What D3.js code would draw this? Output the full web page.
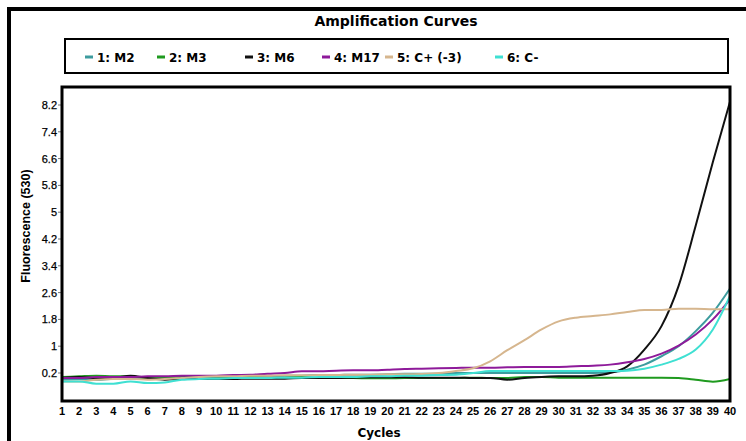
<!DOCTYPE html>
<html>
<head>
<meta charset="utf-8">
<script src="https://cdn.jsdelivr.net/npm/d3@7"></script>
<style>
  body { margin: 0; background: #fff; }
  svg { display: block; }
</style>
</head>
<body>
<script>
// --- data ---
const cycles = [1,2,3,4,5,6,7,8,9,10,11,12,13,14,15,16,17,18,19,20,
                21,22,23,24,25,26,27,28,29,30,31,32,33,34,35,36,37,38,39,40];
const yTicks = [0.2, 1, 1.8, 2.6, 3.4, 4.2, 5, 5.8, 6.6, 7.4, 8.2];

const seriesNames = ["1: M2", "2: M3", "3: M6", "4: M17", "5: C+ (-3)", "6: C-"];
const seriesColors = ["#3d9c9e", "#1f9a1f", "#111111", "#8e1a9a", "#d6b68e", "#3fe0d2"];

const m2 = [0.0,0.02,0.0,0.03,0.05,0.03,0.05,0.1,0.1,0.08,
            0.08,0.1,0.1,0.12,0.12,0.14,0.14,0.15,0.15,0.16,
            0.18,0.18,0.18,0.2,0.2,0.2,0.2,0.2,0.2,0.2,
            0.2,0.2,0.22,0.3,0.45,0.7,1.0,1.45,2.0,2.72];
const m3 = [0.08,0.1,0.12,0.1,0.1,0.05,0.05,0.08,0.1,0.1,
            0.08,0.08,0.06,0.06,0.08,0.05,0.05,0.05,0.04,0.04,
            0.05,0.05,0.05,0.05,0.06,0.05,0.05,0.08,0.08,0.06,
            0.06,0.06,0.06,0.06,0.06,0.06,0.05,0.0,-0.06,0.02];
const m6 = [0.05,0.08,0.05,0.05,0.12,0.05,0.0,0.02,0.02,0.02,
            0.02,0.03,0.03,0.03,0.05,0.05,0.05,0.06,0.07,0.07,
            0.07,0.06,0.06,0.06,0.05,0.05,0.0,0.05,0.08,0.1,
            0.1,0.12,0.2,0.4,0.9,1.6,2.8,4.6,6.5,8.3];
const m17 = [0.05,0.05,0.08,0.08,0.08,0.1,0.1,0.12,0.12,0.12,
             0.14,0.15,0.18,0.2,0.25,0.25,0.27,0.28,0.28,0.3,
             0.32,0.33,0.34,0.35,0.36,0.36,0.37,0.38,0.38,0.38,
             0.4,0.42,0.45,0.52,0.62,0.78,1.02,1.35,1.8,2.4];
const cPos = [-0.05,-0.05,0.0,0.02,0.02,0.0,0.02,0.05,0.08,0.1,
              0.1,0.12,0.12,0.13,0.13,0.14,0.14,0.15,0.15,0.16,
              0.16,0.17,0.2,0.26,0.34,0.55,0.88,1.18,1.5,1.74,
              1.85,1.9,1.95,2.02,2.08,2.08,2.12,2.12,2.1,2.1];
const cNeg = [-0.05,-0.05,-0.12,-0.12,-0.05,-0.1,-0.08,0.0,0.02,0.03,
              0.05,0.05,0.05,0.06,0.06,0.08,0.08,0.08,0.1,0.1,
              0.12,0.12,0.14,0.15,0.2,0.26,0.26,0.26,0.26,0.26,
              0.26,0.26,0.26,0.27,0.33,0.45,0.62,0.9,1.5,2.5];

const seriesValues = [m2, m3, m6, m17, cPos, cNeg];

// --- layout ---
const W = 746, H = 441;
const plot = {left: 62, right: 730, top: 87, bottom: 401};

const svg = d3.select("body").append("svg")
    .attr("width", W)
    .attr("height", H)
    .style("font-family", "'Liberation Sans', Arial, sans-serif");

// outer frame (runs off the right / bottom edge in the reference)
svg.append("rect")
    .attr("x", 9).attr("y", 9)
    .attr("width", 800).attr("height", 500)
    .style("fill", "none")
    .style("stroke", "#000")
    .style("stroke-width", 4);

const x = d3.scaleLinear().domain([1, 40]).range([plot.left, plot.right]);
const y = d3.scaleLinear().domain([0.2, 8.2]).range([373, 105]);

// title
svg.append("text")
    .attr("x", (plot.left + plot.right) / 2)
    .attr("y", 26)
    .attr("text-anchor", "middle")
    .style("font-family", "'DejaVu Sans', sans-serif")
    .style("font-weight", "bold")
    .style("font-size", "14px")
    .text("Amplification Curves");

// legend
svg.append("rect")
    .attr("x", 65).attr("y", 39)
    .attr("width", 663).attr("height", 34)
    .style("fill", "#fff")
    .style("stroke", "#000")
    .style("stroke-width", 2);

const legendX = [85, 157, 245, 322, 385, 495];
const legend = svg.selectAll(".legend-item")
    .data(seriesNames)
    .join("g")
    .attr("class", "legend-item")
    .attr("transform", (d, i) => `translate(${legendX[i]},57)`);

legend.append("line")
    .attr("x1", 0).attr("x2", 8)
    .attr("y1", 0).attr("y2", 0)
    .style("stroke", (d, i) => seriesColors[i])
    .style("stroke-width", 3);

legend.append("text")
    .attr("x", 12)
    .attr("y", 4.5)
    .style("font-family", "'DejaVu Sans', sans-serif")
    .style("font-weight", "bold")
    .style("font-size", "12px")
    .text(d => d);

// y axis ticks + labels
svg.selectAll(".ytick")
    .data(yTicks)
    .join("line")
    .attr("class", "ytick")
    .attr("x1", plot.left - 4).attr("x2", plot.left)
    .attr("y1", d => y(d)).attr("y2", d => y(d))
    .style("stroke", "#777")
    .style("stroke-width", 1);

svg.selectAll(".ylabel")
    .data(yTicks)
    .join("text")
    .attr("class", "ylabel")
    .attr("x", plot.left - 5)
    .attr("y", d => y(d) + 4)
    .attr("text-anchor", "end")
    .style("font-size", "11px")
    .style("stroke", "#000")
    .style("stroke-width", 0.25)
    .text(d => d);

svg.append("text")
    .attr("transform", "translate(30,226) rotate(-90)")
    .attr("text-anchor", "middle")
    .style("font-weight", "bold")
    .style("font-size", "12.5px")
    .text("Fluorescence (530)");

// x labels
svg.selectAll(".xlabel")
    .data(cycles)
    .join("text")
    .attr("class", "xlabel")
    .attr("x", d => x(d))
    .attr("y", 415)
    .attr("text-anchor", "middle")
    .style("font-family", "'Liberation Sans Narrow', 'Liberation Sans', sans-serif")
    .style("font-weight", "bold")
    .style("font-size", "11px")
    .text(d => d);

svg.append("text")
    .attr("x", 379)
    .attr("y", 437)
    .attr("text-anchor", "middle")
    .style("font-family", "'DejaVu Sans', sans-serif")
    .style("font-weight", "bold")
    .style("font-size", "12px")
    .text("Cycles");

// curves
svg.append("clipPath").attr("id", "clip")
    .append("rect")
    .attr("x", plot.left).attr("y", plot.top)
    .attr("width", plot.right - plot.left).attr("height", plot.bottom - plot.top);

const line = d3.line()
    .x((d, i) => x(cycles[i]))
    .y(d => y(d))
    .curve(d3.curveMonotoneX);

svg.append("g")
    .attr("clip-path", "url(#clip)")
    .selectAll(".curve")
    .data(seriesValues)
    .join("path")
    .attr("class", "curve")
    .attr("d", line)
    .style("fill", "none")
    .style("stroke", (d, i) => seriesColors[i])
    .style("stroke-width", 2);

// plot frame
svg.append("rect")
    .attr("x", plot.left).attr("y", plot.top)
    .attr("width", plot.right - plot.left)
    .attr("height", plot.bottom - plot.top)
    .style("fill", "none")
    .style("stroke", "#000")
    .style("stroke-width", 3);
</script>
</body>
</html>
